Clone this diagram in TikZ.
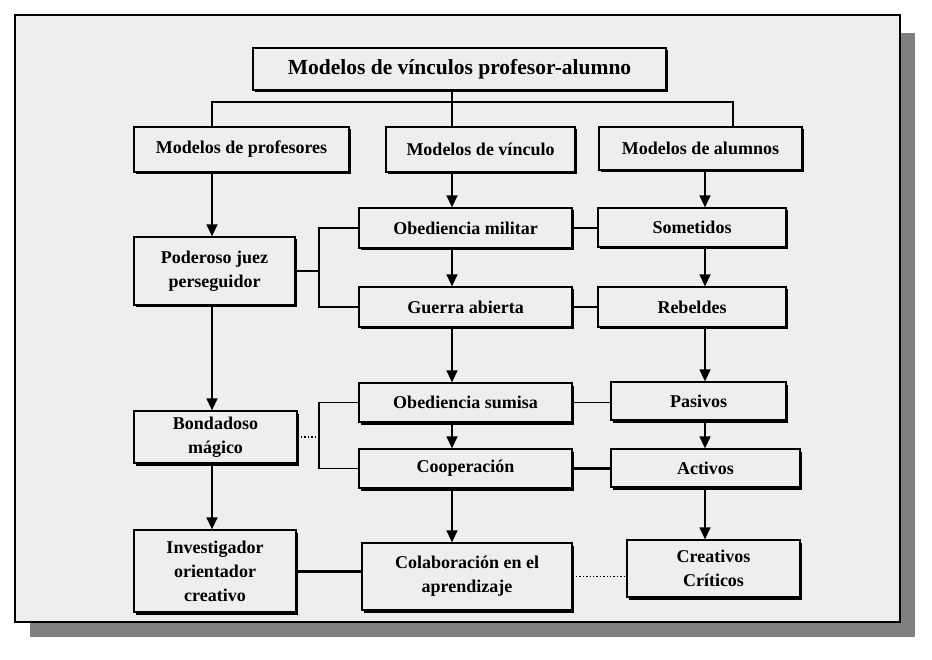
\documentclass[tikz,border=0pt]{standalone}
\usepackage{fontspec}
\setmainfont{Liberation Serif}
\usetikzlibrary{arrows.meta,shadows,calc}
\definecolor{bgc}{HTML}{EEEEEE}
\definecolor{shc}{HTML}{808080}
\begin{document}
\begin{tikzpicture}[x=1pt,y=-1pt,
 box/.style={draw=black, line width=1.3pt, fill=bgc, inner sep=0pt, align=center,
   font=\bfseries\fontsize{18}{24}\selectfont,
   drop shadow={shadow xshift=2pt, shadow yshift=-2.5pt, fill=black, opacity=1}},
 ln/.style={line width=1.4pt},
 arr/.style={line width=1.4pt, -{Triangle[length=12pt,width=11pt]}},
 thk/.style={line width=3pt},
 dotln/.style={line width=1.4pt, dotted}]
\useasboundingbox (0,0) rectangle (932,660);
\fill[shc] (30,33) rectangle (915,637);
\draw[line width=1.5pt, fill=bgc] (15,15) rectangle (900,622);

\node[box, font=\bfseries\fontsize{21.5}{26}\selectfont, minimum width=413pt, minimum height=42pt] (top) at (459.5,69) {Modelos de vínculos profesor-alumno};
\node[box, minimum width=215pt, minimum height=45pt] (mp) at (241.5,149.5) {Modelos de profesores};
\node[box, minimum width=189pt, minimum height=45pt] (mv) at (480.5,149.5) {Modelos de vínculo};
\node[box, minimum width=203pt, minimum height=43pt] (ma) at (700.5,148.5) {Modelos de alumnos};

\node[box, minimum width=161pt, minimum height=68pt] (pod) at (214.5,271) {Poderoso juez\\perseguidor};
\node[box, minimum width=213pt, minimum height=40pt] (om) at (465.5,228) {Obediencia militar};
\node[box, minimum width=188pt, minimum height=39pt] (som) at (692,227.5) {Sometidos};
\node[box, minimum width=213pt, minimum height=40pt] (ga) at (465.5,307) {Guerra abierta};
\node[box, minimum width=188pt, minimum height=40pt] (reb) at (692,307) {Rebeldes};

\node[box, minimum width=163pt, minimum height=52pt] (bon) at (215.5,437) {Bondadoso\\mágico};
\node[box, minimum width=213pt, minimum height=39pt] (os) at (465.5,402.5) {Obediencia sumisa};
\node[box, minimum width=175pt, minimum height=38pt] (pas) at (698.5,401) {Pasivos};
\node[box, minimum width=213pt, minimum height=39pt] (coop) at (465.5,468.5) {Cooperación};
\node[box, minimum width=189pt, minimum height=38pt] (act) at (705.5,468) {Activos};

\node[box, minimum width=162pt, minimum height=82pt] (inv) at (215,571) {Investigador\\orientador\\creativo};
\node[box, minimum width=210pt, minimum height=67pt] (col) at (467,576.5) {Colaboración en el\\aprendizaje};
\node[box, minimum width=173pt, minimum height=57pt] (cre) at (713.5,568.5) {Creativos\\Críticos};

\coordinate (cA) at (212,0);
\coordinate (cB) at (452,0);
\coordinate (cC) at (705,0);
\coordinate (jA) at (319,0);
\coordinate (busL) at (212,102);
\coordinate (busR) at (733,102);

\draw[ln] (top.south -| cB) -- (mv.north -| cB);
\draw[ln] (mp.north -| busL) -- (busL) -- (busR) -- (ma.north -| busR);

\draw[arr] (mp.south -| cA) -- (pod.north -| cA);
\draw[arr] (pod.south -| cA) -- (bon.north -| cA);
\draw[arr] (bon.south -| cA) -- (inv.north -| cA);

\draw[arr] (mv.south -| cB) -- (om.north -| cB);
\draw[arr] (om.south -| cB) -- (ga.north -| cB);
\draw[arr] (ga.south -| cB) -- (os.north -| cB);
\draw[arr] (os.south -| cB) -- (coop.north -| cB);
\draw[arr] (coop.south -| cB) -- (col.north -| cB);

\draw[arr] (ma.south -| cC) -- (som.north -| cC);
\draw[arr] (som.south -| cC) -- (reb.north -| cC);
\draw[arr] (reb.south -| cC) -- (pas.north -| cC);
\draw[arr] (pas.south -| cC) -- (act.north -| cC);
\draw[arr] (act.south -| cC) -- (cre.north -| cC);

\draw[ln] (pod.east) -- (pod.east -| jA);
\draw[ln] (om.west) -- (om.west -| jA) -- (ga.west -| jA) -- (ga.west);
\draw[dotln] (bon.east) -- (bon.east -| jA);
\draw[ln] (os.west) -- (os.west -| jA) -- (coop.west -| jA) -- (coop.west);

\draw[ln] (om.east) -- (om.east -| som.west);
\draw[ln] (ga.east) -- (ga.east -| reb.west);
\draw[ln] (os.east) -- (os.east -| pas.west);
\draw[thk] (coop.east) -- (coop.east -| act.west);
\draw[thk] (inv.east) -- (inv.east -| col.west);
\draw[dotln] (col.east) -- (col.east -| cre.west);
\end{tikzpicture}
\end{document}
